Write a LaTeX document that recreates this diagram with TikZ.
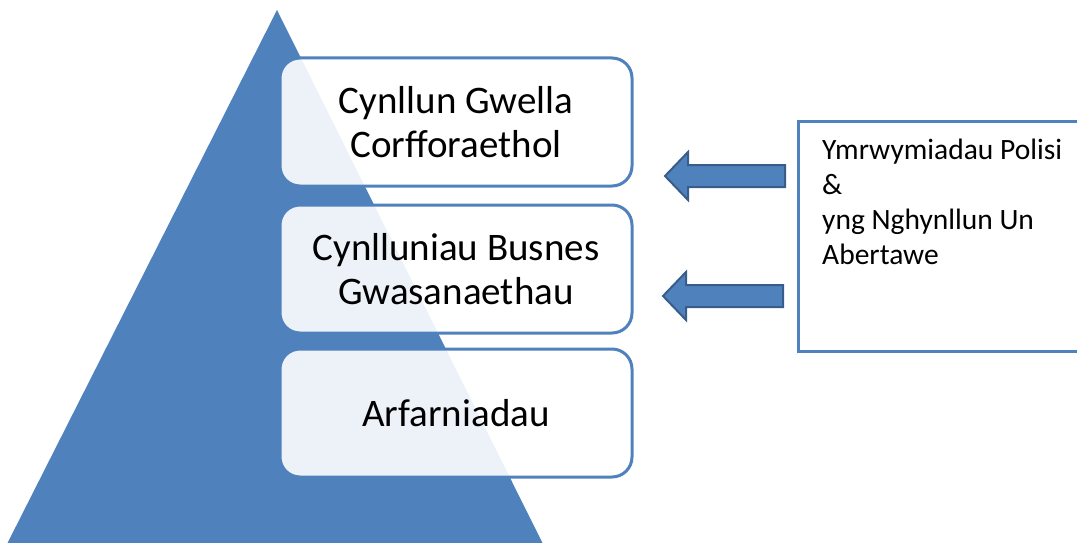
\documentclass[tikz,border=0pt]{standalone}
\usepackage{fontspec}
\setmainfont{Carlito}
\usetikzlibrary{positioning}
\definecolor{pyrblue}{HTML}{4F81BD}
\definecolor{arrowedge}{HTML}{385D8A}

\tikzset{
  level/.style={draw=pyrblue, line width=3pt, fill=white, fill opacity=0.9, text opacity=1,
    rounded corners=20pt, minimum width=352pt, minimum height=128pt, align=center,
    font=\fontsize{39}{44}\selectfont},
  blockarrow/.style={fill=pyrblue, draw=arrowedge, line width=2pt, line join=miter},
  infobox/.style={draw=pyrblue, line width=3pt, fill=white, minimum width=320pt,
    minimum height=230pt, anchor=north west, inner sep=0pt},
}

\begin{document}
\begin{tikzpicture}[x=1pt,y=-1pt]
				\useasboundingbox (0,0) rectangle (1077,543);
				\clip (0,0) rectangle (1077,543);
				
				% pyramid
				\fill[pyrblue] (277,10) -- (545,548) -- (5,548) -- cycle;
				
				\node[level] (plan)  at (456,122) {Cynllun Gwella\\Corfforaethol};
				\node[level] (busn)  at (456,269) {Cynlluniau Busnes\\Gwasanaethau};
				\node[level] (appr)  at (456,413) {Arfarniadau};
				
				% policy box
				\node[infobox] (policy) at (797,120) {};
				\node[anchor=north west, inner sep=0pt, align=left,
				      font=\fontsize{29.5}{35}\selectfont] (poltext) at (822,139)
				      {Ymrwymiadau Polisi\\\&\\yng Nghynllun Un\\Abertawe};
				
				% arrows
				\draw[blockarrow] (785,165) -- ++(-97,0) -- ++(0,-13) -- ++(-23,24)
				      -- ++(23,24) -- ++(0,-13) -- ++(97,0) -- cycle;
				\draw[blockarrow] (783,285) -- ++(-97,0) -- ++(0,-13) -- ++(-23,24)
				      -- ++(23,24) -- ++(0,-13) -- ++(97,0) -- cycle;
			\end{tikzpicture}
\end{document}
